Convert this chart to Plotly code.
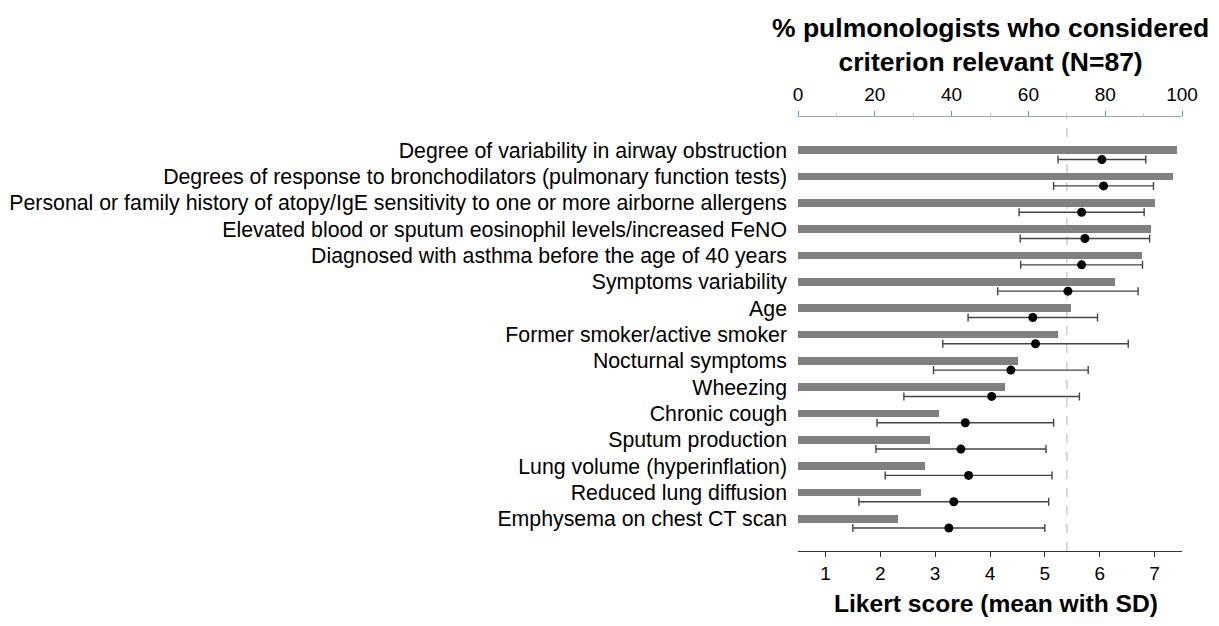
import plotly.graph_objects as go

criteria = [
    "Degree of variability in airway obstruction",
    "Degrees of response to bronchodilators (pulmonary function tests)",
    "Personal or family history of atopy/IgE sensitivity to one or more airborne allergens",
    "Elevated blood or sputum eosinophil levels/increased FeNO",
    "Diagnosed with asthma before the age of 40 years",
    "Symptoms variability",
    "Age",
    "Former smoker/active smoker",
    "Nocturnal symptoms",
    "Wheezing",
    "Chronic cough",
    "Sputum production",
    "Lung volume (hyperinflation)",
    "Reduced lung diffusion",
    "Emphysema on chest CT scan",
]
pct_relevant = [98.8, 97.6, 93.0, 91.8, 89.6, 82.6, 71.2, 67.6, 57.3, 53.8, 36.6, 34.3, 33.1, 31.9, 26.1]
likert_mean = [6.04, 6.07, 5.67, 5.73, 5.67, 5.42, 4.78, 4.83, 4.38, 4.03, 3.55, 3.47, 3.61, 3.34, 3.25]
likert_sd = [0.80, 0.91, 1.14, 1.18, 1.11, 1.28, 1.18, 1.69, 1.41, 1.60, 1.61, 1.55, 1.52, 1.73, 1.75]
threshold_pct = 70
pct_ticks = [0, 20, 40, 60, 80, 100]
likert_ticks = [1, 2, 3, 4, 5, 6, 7]

FONT = "Arial, Liberation Sans, sans-serif"
n = len(criteria)
bar_y = list(range(n))
dot_y = [i + 0.353 for i in range(n)]

fig = go.Figure()
fig.add_trace(go.Bar(
    x=pct_relevant, y=bar_y, orientation="h", xaxis="x2", yaxis="y",
    marker=dict(color="#808080", line=dict(width=0)), width=0.29,
    showlegend=False, hoverinfo="x",
))
fig.add_trace(go.Scatter(
    x=likert_mean, y=dot_y, mode="markers", xaxis="x", yaxis="y",
    marker=dict(color="black", size=9),
    error_x=dict(type="data", array=likert_sd, symmetric=True, color="#444444", thickness=1.4, width=4),
    showlegend=False, hoverinfo="x",
))

fig.add_shape(type="line", xref="x2", yref="paper", x0=threshold_pct, x1=threshold_pct, y0=0, y1=1,
              line=dict(color="#cccccc", width=1.5, dash="dash"), layer="below")

fig.update_layout(
    width=1211, height=618,
    margin=dict(l=790, r=37, t=109, b=75, autoexpand=False),
    paper_bgcolor="white", plot_bgcolor="white",
    font=dict(family=FONT, color="black"),
    bargap=0,
    xaxis=dict(
        range=[0.5, 7.5], tickvals=likert_ticks, ticks="outside", ticklen=5, tickwidth=1.3,
        tickcolor="#333333", showline=True, linecolor="#333333", linewidth=1.3,
        showgrid=False, zeroline=False, tickfont=dict(size=19, family=FONT),
        automargin=False,
    ),
    xaxis2=dict(
        range=[0, 100], overlaying="x", side="top", tickvals=pct_ticks, ticks="outside",
        ticklen=5, tickwidth=1.3, tickcolor="#5b9bd5", showline=True, linecolor="#a6a6a6",
        linewidth=1.3, showgrid=False, zeroline=False, tickfont=dict(size=19, family=FONT),
        minor=dict(tickvals=[10, 30, 50, 70, 90], ticks="outside", ticklen=3, tickcolor="#b8d0ea", tickwidth=1),
        ticklabelstandoff=2, automargin=False,
    ),
    yaxis=dict(
        range=[15.226, -1.264], tickvals=bar_y, ticktext=criteria, showline=False, ticks="",
        showgrid=False, zeroline=False, tickfont=dict(size=21.3, family=FONT), ticklabelstandoff=10,
        automargin=False,
    ),
    annotations=[
        dict(text="<b>% pulmonologists who considered<br>criterion relevant (N=87)</b>",
             xref="paper", yref="paper", x=0.5, y=(551 - 44.5) / 434, xanchor="center", yanchor="middle",
             showarrow=False, font=dict(size=26.5, family=FONT, color="black")),
        dict(text="<b>Likert score (mean with SD)</b>",
             xref="paper", yref="paper", x=0.515, y=(551 - 603) / 434, xanchor="center", yanchor="middle",
             showarrow=False, font=dict(size=24.6, family=FONT, color="black")),
    ],
)

fig.write_html("out.html")
